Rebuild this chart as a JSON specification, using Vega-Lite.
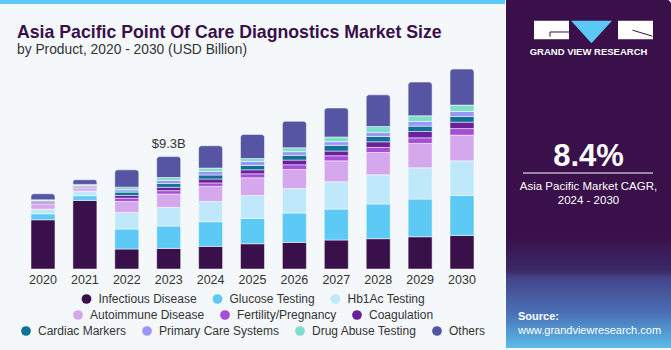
{
  "$schema": "https://vega.github.io/schema/vega-lite/v6.json",
  "background": "#f4f8fb",
  "padding": {"left": 0, "top": 0, "right": 0, "bottom": 2},
  "spacing": 1,
  "config": {
    "font": "Liberation Sans",
    "view": {"stroke": null},
    "axis": {"labelFont": "Liberation Sans"},
    "legend": {
      "orient": "bottom",
      "direction": "horizontal",
      "title": null,
      "symbolType": "circle",
      "symbolSize": 95,
      "symbolStrokeWidth": 0,
      "labelFont": "Liberation Sans",
      "labelFontSize": 12,
      "labelColor": "#333333",
      "labelOffset": 6,
      "columnPadding": 14,
      "padding": 0,
      "offset": 7,
      "layout": {"bottom": {"anchor": "middle", "direction": "vertical", "center": true, "margin": 4}}
    }
  },
  "hconcat": [
    {
      "spacing": 19,
      "vconcat": [
        {
          "width": 505,
          "height": 4,
          "data": {"values": [{"part": "stripe"}]},
          "mark": {"type": "rect", "color": "#5bc8f5"},
          "encoding": {}
        },
        {
          "width": 505,
          "height": 207,
          "title": {
            "text": "Asia Pacific Point Of Care Diagnostics Market Size",
            "subtitle": "by Product, 2020 - 2030 (USD Billion)",
            "anchor": "start",
            "frame": "group",
            "dx": 17,
            "font": "Liberation Sans",
            "fontSize": 17.7,
            "fontWeight": "bold",
            "color": "#39104a",
            "subtitleFont": "Liberation Sans",
            "subtitleFontSize": 13.8,
            "subtitleColor": "#333333",
            "subtitlePadding": 2,
            "offset": 5
          },
          "data": {"values": [
            {"year": "2020", "Infectious Disease": 4.09, "Glucose Testing": 0.50, "Hb1Ac Testing": 0.39, "Autoimmune Disease": 0.38, "Fertility/Pregnancy": 0.12, "Coagulation": 0.08, "Cardiac Markers": 0.08, "Primary Care Systems": 0.05, "Drug Abuse Testing": 0.06, "Others": 0.50},
            {"year": "2021", "Infectious Disease": 5.70, "Glucose Testing": 0.39, "Hb1Ac Testing": 0.39, "Autoimmune Disease": 0.22, "Fertility/Pregnancy": 0.08, "Coagulation": 0.08, "Cardiac Markers": 0.06, "Primary Care Systems": 0.06, "Drug Abuse Testing": 0.05, "Others": 0.39},
            {"year": "2022", "Infectious Disease": 1.66, "Glucose Testing": 1.66, "Hb1Ac Testing": 1.38, "Autoimmune Disease": 0.91, "Fertility/Pregnancy": 0.28, "Coagulation": 0.22, "Cardiac Markers": 0.28, "Primary Care Systems": 0.19, "Drug Abuse Testing": 0.22, "Others": 1.44},
            {"year": "2023", "Infectious Disease": 1.71, "Glucose Testing": 1.86, "Hb1Ac Testing": 1.55, "Autoimmune Disease": 1.11, "Fertility/Pregnancy": 0.28, "Coagulation": 0.28, "Cardiac Markers": 0.31, "Primary Care Systems": 0.25, "Drug Abuse Testing": 0.25, "Others": 1.74},
            {"year": "2024", "Infectious Disease": 1.88, "Glucose Testing": 2.05, "Hb1Ac Testing": 1.69, "Autoimmune Disease": 1.25, "Fertility/Pregnancy": 0.28, "Coagulation": 0.33, "Cardiac Markers": 0.33, "Primary Care Systems": 0.30, "Drug Abuse Testing": 0.28, "Others": 1.85},
            {"year": "2025", "Infectious Disease": 2.10, "Glucose Testing": 2.10, "Hb1Ac Testing": 1.91, "Autoimmune Disease": 1.47, "Fertility/Pregnancy": 0.33, "Coagulation": 0.33, "Cardiac Markers": 0.36, "Primary Care Systems": 0.33, "Drug Abuse Testing": 0.25, "Others": 2.00},
            {"year": "2026", "Infectious Disease": 2.21, "Glucose Testing": 2.44, "Hb1Ac Testing": 2.04, "Autoimmune Disease": 1.58, "Fertility/Pregnancy": 0.39, "Coagulation": 0.39, "Cardiac Markers": 0.39, "Primary Care Systems": 0.31, "Drug Abuse Testing": 0.33, "Others": 2.19},
            {"year": "2027", "Infectious Disease": 2.41, "Glucose Testing": 2.57, "Hb1Ac Testing": 2.27, "Autoimmune Disease": 1.74, "Fertility/Pregnancy": 0.42, "Coagulation": 0.39, "Cardiac Markers": 0.47, "Primary Care Systems": 0.31, "Drug Abuse Testing": 0.39, "Others": 2.41},
            {"year": "2028", "Infectious Disease": 2.52, "Glucose Testing": 2.88, "Hb1Ac Testing": 2.43, "Autoimmune Disease": 1.85, "Fertility/Pregnancy": 0.42, "Coagulation": 0.47, "Cardiac Markers": 0.44, "Primary Care Systems": 0.33, "Drug Abuse Testing": 0.50, "Others": 2.63},
            {"year": "2029", "Infectious Disease": 2.68, "Glucose Testing": 3.13, "Hb1Ac Testing": 2.60, "Autoimmune Disease": 2.02, "Fertility/Pregnancy": 0.47, "Coagulation": 0.53, "Cardiac Markers": 0.44, "Primary Care Systems": 0.39, "Drug Abuse Testing": 0.47, "Others": 2.80},
            {"year": "2030", "Infectious Disease": 2.79, "Glucose Testing": 3.32, "Hb1Ac Testing": 2.88, "Autoimmune Disease": 2.13, "Fertility/Pregnancy": 0.55, "Coagulation": 0.53, "Cardiac Markers": 0.47, "Primary Care Systems": 0.42, "Drug Abuse Testing": 0.53, "Others": 2.99}
          ]},
          "transform": [
            {"fold": ["Infectious Disease", "Glucose Testing", "Hb1Ac Testing", "Autoimmune Disease", "Fertility/Pregnancy", "Coagulation", "Cardiac Markers", "Primary Care Systems", "Drug Abuse Testing", "Others"], "as": ["product", "value"]},
            {"calculate": "indexof(['Infectious Disease', 'Glucose Testing', 'Hb1Ac Testing', 'Autoimmune Disease', 'Fertility/Pregnancy', 'Coagulation', 'Cardiac Markers', 'Primary Care Systems', 'Drug Abuse Testing', 'Others'], datum.product)", "as": "k"},
            {"stack": "value", "groupby": ["year"], "sort": [{"field": "k", "order": "ascending"}], "as": ["v0", "v1"]}
          ],
          "encoding": {
            "x": {
              "field": "year", "type": "ordinal",
              "scale": {"type": "band", "paddingInner": 0, "paddingOuter": 0.526},
              "axis": {"title": null, "labelAngle": 0, "ticks": false, "domain": false, "labelFontSize": 12.5, "labelColor": "#333333", "labelPadding": 4}
            }
          },
          "layer": [
            {
              "transform": [{"filter": {"field": "product", "oneOf": ["Infectious Disease", "Glucose Testing", "Hb1Ac Testing"]}}],
              "mark": {"type": "bar", "size": 24, "stroke": "#ffffff", "strokeWidth": 0.5},
              "encoding": {
                "y": {"field": "v0", "type": "quantitative", "scale": {"domain": [0, 17.2], "nice": false}, "axis": null},
                "y2": {"field": "v1"},
                "color": {"field": "product", "type": "nominal",
                  "scale": {"domain": ["Infectious Disease", "Glucose Testing", "Hb1Ac Testing"], "range": ["#39104a", "#5ccaf5", "#bfe9fa"]},
                  "legend": {"orient": "bottom", "direction": "horizontal"}}
              }
            },
            {
              "transform": [{"filter": {"field": "product", "oneOf": ["Autoimmune Disease", "Fertility/Pregnancy", "Coagulation"]}}],
              "mark": {"type": "bar", "size": 24, "stroke": "#ffffff", "strokeWidth": 0.5},
              "encoding": {
                "y": {"field": "v0", "type": "quantitative", "scale": {"domain": [0, 17.2], "nice": false}, "axis": null},
                "y2": {"field": "v1"},
                "color": {"field": "product", "type": "nominal",
                  "scale": {"domain": ["Autoimmune Disease", "Fertility/Pregnancy", "Coagulation"], "range": ["#d5a7ed", "#a54fd8", "#6a209a"]},
                  "legend": {"orient": "bottom", "direction": "horizontal"}}
              }
            },
            {
              "transform": [{"filter": {"field": "product", "oneOf": ["Cardiac Markers", "Primary Care Systems", "Drug Abuse Testing", "Others"]}}],
              "mark": {"type": "bar", "size": 24, "stroke": "#ffffff", "strokeWidth": 0.5,
                "cornerRadiusTopLeft": {"expr": "datum.product === 'Others' ? 3 : 0"},
                "cornerRadiusTopRight": {"expr": "datum.product === 'Others' ? 3 : 0"}},
              "encoding": {
                "y": {"field": "v0", "type": "quantitative", "scale": {"domain": [0, 17.2], "nice": false}, "axis": null},
                "y2": {"field": "v1"},
                "color": {"field": "product", "type": "nominal",
                  "scale": {"domain": ["Cardiac Markers", "Primary Care Systems", "Drug Abuse Testing", "Others"], "range": ["#0f7196", "#9b97fa", "#7fdfcb", "#5655a3"]},
                  "legend": {"orient": "bottom", "direction": "horizontal"}}
              }
            },
            {
              "transform": [
                {"filter": "datum.year === '2023' && datum.product === 'Others'"},
                {"calculate": "'$' + format(datum.v1, '.1f') + 'B'", "as": "label"}
              ],
              "mark": {"type": "text", "baseline": "bottom", "dy": -6, "fontSize": 13, "color": "#333333", "font": "Liberation Sans"},
              "encoding": {
                "y": {"field": "v1", "type": "quantitative"},
                "text": {"field": "label"}
              }
            }
          ],
          "resolve": {"scale": {"color": "independent"}}
        }
      ]
    },
    {
      "width": 165,
      "height": 348,
      "data": {"values": [
        {"item": "brand", "slot": "brand", "col": "mid", "label": "GRAND VIEW RESEARCH"}
      ]},
      "encoding": {
        "x": {"field": "col", "type": "nominal", "scale": {"type": "point", "domain": ["left", "mid", "right"], "padding": 0.17}, "axis": null},
        "y": {"field": "slot", "type": "nominal", "scale": {"type": "point", "domain": ["brand", "kpi", "src"], "padding": 0.4227}, "axis": null}
      },
      "layer": [
        {
          "data": {"values": [{"item": "panel"}]},
          "mark": {"type": "rect", "cornerRadiusTopRight": 4,
            "color": {"gradient": "linear", "x1": 0, "y1": 0, "x2": 0, "y2": 1,
              "stops": [
                {"offset": 0, "color": "#39104a"},
                {"offset": 0.68, "color": "#39104a"},
                {"offset": 0.78, "color": "#3d2a68"},
                {"offset": 0.8, "color": "#45458a"},
                {"offset": 0.9, "color": "#4a70b6"},
                {"offset": 1, "color": "#5bbde9"}
              ]}},
          "encoding": {"x": null, "y": null}
        },
        {
          "mark": {"type": "point", "filled": true, "size": 4, "opacity": 1, "color": "#ffffff", "strokeWidth": 0,
            "shape": "M-54.5,-31H-19.5V-12.4H-54.5Z M29.5,-31H64.5V-12.4H29.5Z"}
        },
        {
          "mark": {"type": "point", "filled": true, "size": 4, "opacity": 1, "color": "#5bc8f5", "strokeWidth": 0,
            "shape": "M-17.5,-31H23.5L3,-8.4Z"}
        },
        {
          "mark": {"type": "point", "filled": false, "size": 4, "opacity": 1, "color": "#39104a", "strokeWidth": 1,
            "shape": "M-38.5,-15V-19.7H-19.5 M44,-21.5L64,-15.5"}
        },
        {
          "mark": {"type": "text", "color": "#ffffff", "fontSize": 9.5, "fontWeight": "bold", "baseline": "middle", "font": "Liberation Sans"},
          "encoding": {"text": {"field": "label"}}
        },
        {
          "data": {"values": [{"item": "cagr", "slot": "kpi", "col": "mid", "label": "8.4%"}]},
          "mark": {"type": "text", "color": "#ffffff", "fontSize": 31, "fontWeight": "bold", "baseline": "alphabetic", "dy": -8, "font": "Liberation Sans"},
          "encoding": {"text": {"field": "label"}}
        },
        {
          "data": {"values": [{"item": "divider", "slot": "kpi", "col": "mid"}]},
          "mark": {"type": "point", "filled": false, "size": 4, "opacity": 1, "color": "#ffffff", "strokeWidth": 1,
            "shape": "M-65.5,-1H64.5"}
        },
        {
          "data": {"values": [{"item": "cagrlabel", "slot": "kpi", "col": "mid", "label": ["Asia Pacific Market CAGR,", "2024 - 2030"]}]},
          "mark": {"type": "text", "color": "#ffffff", "fontSize": 11.5, "baseline": "alphabetic", "dy": 16, "lineHeight": 14, "font": "Liberation Sans"},
          "encoding": {"text": {"field": "label"}}
        },
        {
          "data": {"values": [{"item": "source", "slot": "src", "col": "left", "label": "Source:"}]},
          "mark": {"type": "text", "color": "#ffffff", "fontSize": 11, "fontWeight": "bold", "align": "left", "baseline": "alphabetic", "dy": 24, "font": "Liberation Sans"},
          "encoding": {"text": {"field": "label"}}
        },
        {
          "data": {"values": [{"item": "url", "slot": "src", "col": "left", "label": "www.grandviewresearch.com"}]},
          "mark": {"type": "text", "color": "#ffffff", "fontSize": 11, "align": "left", "baseline": "alphabetic", "dy": 38, "font": "Liberation Sans"},
          "encoding": {"text": {"field": "label"}}
        }
      ]
    }
  ]
}
